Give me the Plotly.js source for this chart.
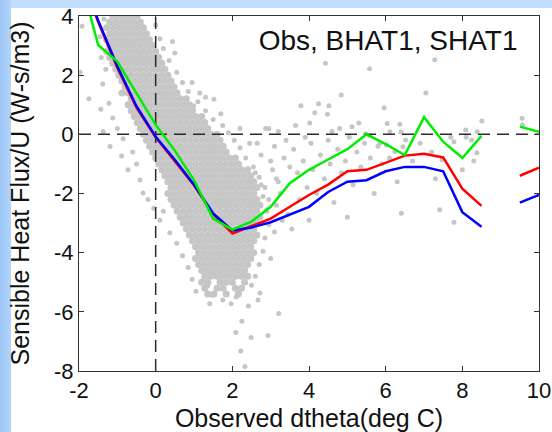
<!DOCTYPE html>
<html><head><meta charset="utf-8">
<script src="https://cdn.plot.ly/plotly-3.0.1.min.js"></script>
<style>
html,body{margin:0;padding:0;background:#fff;}
#wrap{position:relative;width:552px;height:432px;overflow:hidden;background:#fff;}
#bandTop{position:absolute;left:0;top:0;width:552px;height:8px;background:#c2defc;}
#bandLeft{position:absolute;left:0;top:0;width:11px;height:432px;background:linear-gradient(to right,#9cc6f6,#b2d5fa);}
#chart{position:absolute;left:0;top:0;width:552px;height:432px;}
</style></head>
<body><div id="wrap"><div id="bandTop"></div><div id="bandLeft"></div><div id="chart"></div></div>
<script>
// axis settings
const xRange = [-2, 10];
const yRange = [-8, 4];
const xTickVals = [-2, 0, 2, 4, 6, 8, 10];
const xTickText = ['-2', '0', '2', '4', '6', '8', '10'];
const yTickVals = [-8, -6, -4, -2, 0, 2, 4];
const yTickText = ['-8', '-6', '-4', '-2', '0', '2', '4'];
const xTitle = 'Observed dtheta(deg C)';
const yTitle = 'Sensible Heat Flux/U (W-s/m3)';
const chartTitle = 'Obs, BHAT1, SHAT1';

// binned curves
const binX = [-2, -1.5, -1, -0.5, 0, 0.5, 1, 1.5, 2, 2.5, 3, 3.5, 4, 4.5, 5, 5.5, 6, 6.5, 7, 7.5, 8, 8.5, 9, 9.5, 10];
const curveRed   = [5.5, 3.8, 2.25, 0.9, -0.1, -0.9, -1.72, -2.7, -3.35, -3.1, -2.85, -2.45, -2.05, -1.7, -1.25, -1.2, -0.95, -0.72, -0.66, -0.78, -1.84, -2.42, null, -1.4, -1.13];
const curveBlue  = [5.6, 3.85, 2.3, 0.95, -0.08, -0.86, -1.7, -2.67, -3.25, -3.15, -2.97, -2.72, -2.45, -1.95, -1.6, -1.55, -1.25, -1.1, -1.1, -1.25, -2.63, -3.12, null, -2.31, -2.05];
const curveGreen = [5.45, 3.02, 2.46, 1.4, 0.32, -0.55, -1.55, -2.85, -3.22, -2.95, -2.45, -1.65, -1.2, -0.85, -0.5, 0.0, -0.33, -0.7, 0.58, -0.25, -0.8, -0.05, null, 0.26, 0.09];

// observed points: dense core, one row of x values per y level
const coreY = [4.0,3.8,3.6,3.4,3.2,3.0,2.8,2.6,2.4,2.2,2.0,1.8,1.6,1.4,1.2,1.0,0.8,0.6,0.4,0.2,0.0,-0.2,-0.4,-0.6,-0.8,-1.0,-1.2,-1.4,-1.6,-1.8,-2.0,-2.2,-2.4,-2.6,-2.8,-3.0,-3.2,-3.4,-3.6,-3.8,-4.0,-4.2,-4.4,-4.6,-4.8,-5.0,-5.2,-5.4];
const coreX = [
 [-1.12,-0.96,-0.8,-0.64,-0.48],
 [-1.2,-1.04,-0.88,-0.72,-0.56,-0.4],
 [-1.28,-1.12,-0.96,-0.8,-0.64,-0.48,-0.32],
 [-1.2,-1.04,-0.88,-0.72,-0.56,-0.4,-0.24],
 [-1.28,-1.12,-0.96,-0.8,-0.64,-0.48,-0.32,-0.16],
 [-1.2,-1.04,-0.88,-0.72,-0.56,-0.4,-0.24,-0.08],
 [-1.28,-1.12,-0.96,-0.8,-0.64,-0.48,-0.32,-0.16,0],
 [-1.2,-1.04,-0.88,-0.72,-0.56,-0.4,-0.24,-0.08,0.08],
 [-1.12,-0.96,-0.8,-0.64,-0.48,-0.32,-0.16,0,0.16],
 [-1.04,-0.88,-0.72,-0.56,-0.4,-0.24,-0.08,0.08,0.24],
 [-0.96,-0.8,-0.64,-0.48,-0.32,-0.16,0,0.16,0.32],
 [-0.88,-0.72,-0.56,-0.4,-0.24,-0.08,0.08,0.24,0.4],
 [-0.8,-0.64,-0.48,-0.32,-0.16,0,0.16,0.32,0.48],
 [-0.88,-0.72,-0.56,-0.4,-0.24,-0.08,0.08,0.24,0.4,0.56],
 [-0.64,-0.48,-0.32,-0.16,0,0.16,0.32,0.48,0.64,0.8],
 [-0.72,-0.56,-0.4,-0.24,-0.08,0.08,0.24,0.4,0.56,0.72,0.88],
 [-0.64,-0.48,-0.32,-0.16,0,0.16,0.32,0.48,0.64,0.8,0.96],
 [-0.56,-0.4,-0.24,-0.08,0.08,0.24,0.4,0.56,0.72,0.88,1.04,1.2],
 [-0.48,-0.32,-0.16,0,0.16,0.32,0.48,0.64,0.8,0.96,1.12,1.28],
 [-0.4,-0.24,-0.08,0.08,0.24,0.4,0.56,0.72,0.88,1.04,1.2,1.36],
 [-0.32,-0.16,0,0.16,0.32,0.48,0.64,0.8,0.96,1.12,1.28,1.44,1.6],
 [-0.24,-0.08,0.08,0.24,0.4,0.56,0.72,0.88,1.04,1.2,1.36,1.52,1.68],
 [-0.16,0,0.16,0.32,0.48,0.64,0.8,0.96,1.12,1.28,1.44,1.6,1.76],
 [-0.08,0.08,0.24,0.4,0.56,0.72,0.88,1.04,1.2,1.36,1.52,1.68,1.84],
 [0,0.16,0.32,0.48,0.64,0.8,0.96,1.12,1.28,1.44,1.6,1.76,1.92,2.08],
 [0.08,0.24,0.4,0.56,0.72,0.88,1.04,1.2,1.36,1.52,1.68,1.84,2,2.16],
 [0.16,0.32,0.48,0.64,0.8,0.96,1.12,1.28,1.44,1.6,1.76,1.92,2.08,2.24,2.4],
 [0.24,0.4,0.56,0.72,0.88,1.04,1.2,1.36,1.52,1.68,1.84,2,2.16,2.32,2.48],
 [0.32,0.48,0.64,0.8,0.96,1.12,1.28,1.44,1.6,1.76,1.92,2.08,2.24,2.4,2.56],
 [0.4,0.56,0.72,0.88,1.04,1.2,1.36,1.52,1.68,1.84,2,2.16,2.32,2.48,2.64],
 [0.32,0.48,0.64,0.8,0.96,1.12,1.28,1.44,1.6,1.76,1.92,2.08,2.24,2.4,2.56],
 [0.4,0.56,0.72,0.88,1.04,1.2,1.36,1.52,1.68,1.84,2,2.16,2.32,2.48,2.64],
 [0.48,0.64,0.8,0.96,1.12,1.28,1.44,1.6,1.76,1.92,2.08,2.24,2.4,2.56,2.72],
 [0.56,0.72,0.88,1.04,1.2,1.36,1.52,1.68,1.84,2,2.16,2.32,2.48,2.64],
 [0.64,0.8,0.96,1.12,1.28,1.44,1.6,1.76,1.92,2.08,2.24,2.4,2.56,2.72],
 [0.72,0.88,1.04,1.2,1.36,1.52,1.68,1.84,2,2.16,2.32,2.48,2.64],
 [0.8,0.96,1.12,1.28,1.44,1.6,1.76,1.92,2.08,2.24,2.4,2.56],
 [0.88,1.04,1.2,1.36,1.52,1.68,1.84,2,2.16,2.32,2.48,2.64],
 [0.96,1.12,1.28,1.44,1.6,1.76,1.92,2.08,2.24,2.4,2.56],
 [1.04,1.2,1.36,1.52,1.68,1.84,2,2.16,2.32,2.48],
 [1.12,1.28,1.44,1.6,1.76,1.92,2.08,2.24,2.4,2.56],
 [1.04,1.2,1.36,1.52,1.68,1.84,2,2.16,2.32,2.48],
 [1.12,1.28,1.44,1.6,1.76,1.92,2.08,2.24,2.4],
 [1.2,1.36,1.52,1.68,1.84,2,2.16,2.32],
 [1.28,1.44,1.6,1.76,1.92,2.08,2.24,2.4],
 [1.2,1.36,1.68,1.84,2,2.32],
 [1.28,1.6,1.76,2.08,2.24],
 [1.36,1.52,1.84,2.16]
];

// observed points: scattered ones outside the core
const sparseX = [
 -1.92,-1.97,-1.74,-1.43,-1.37,-1.45,-1.42,-1.38,-1.22,-1.12,-1.19,-0.89,-0.72,-0.41,-0.33,-0.2,0.11,0.37,0.55,-1.0,-0.85,-0.6,-0.5,-0.05,0.2,0.7,0.85,0.95,1.05,-1.3,-1.35,
 0.11,0.44,1.15,1.52,0.99,0.0,0.2,0.35,0.55,0.7,0.85,1.1,1.3,1.5,1.75,1.9,2.05,2.2,2.35,2.55,2.7,2.85,2.95,2.9,2.95,2.85,2.8,2.7,2.6,2.5,0.5,0.95,1.3,1.7,2.2,2.45,2.75,3.05,3.2,3.15,3.3,3.1,3.0,
 1.41,1.97,2.42,2.67,2.72,3.21,2.25,2.09,2.49,2.93,2.22,2.33,1.47,1.36,1.75,2.1,
 4.43,5.58,4.84,7.05,7.28,3.79,4.25,4.52,4.48,5.96,9.57,9.56,2.87,4.02,4.15,4.8,5.12,5.3,5.48,5.58,6.4,8.1,
 2.6,2.75,2.8,2.9,3.0,3.1,3.15,3.25,3.35,3.45,3.5,3.6,3.7,3.75,3.85,3.95,4.05,4.1,4.2,4.3,4.4,4.5,4.55,4.65,4.75,4.85,4.95,5.05,5.15,5.25,5.35,5.45,5.6,5.7,5.8,5.9,2.55,2.65,2.95,3.2,3.4,3.65,3.9,4.6,5.0,4.0,3.55,
 6.1,6.3,6.7,6.9,7.2,7.3,7.7,8.0,8.3,6.04,6.37,6.11,6.52,5.85,6.02,6.45,6.24,6.41,7.41,7.78,8.09,8.39,8.51,8.24,7.78,8.38,7.47
];
const sparseY = [
 3.65,2.1,1.2,0.85,0.1,3.3,2.6,1.7,1.05,0.55,-0.41,-0.73,-1.2,-1.54,-1.98,-2.2,-2.9,-3.33,-3.68,0.2,-0.15,-0.6,-1.0,-2.5,-2.6,-4.1,-4.5,-4.9,-5.3,2.2,3.9,
 3.23,3.14,1.4,1.19,0.97,3.7,2.9,2.5,2.1,1.75,1.45,1.1,0.8,0.5,0.3,0.05,-0.2,-0.45,-0.8,-1.1,-1.45,-1.8,-2.2,-2.55,-3.05,-3.5,-3.95,-4.4,-4.8,-5.1,2.75,1.75,1.25,0.7,0.2,-0.3,-0.7,-1.2,-1.6,-2.4,-2.9,-3.3,-4.2,
 -5.73,-5.73,-5.8,-5.6,-5.36,-6.06,-6.32,-6.7,-6.87,-6.8,-7.32,-7.85,-5.44,-5.12,-5.6,-5.5,
 2.4,2.22,1.33,1.4,2.52,0.97,1.03,0.97,0.68,0.9,0.32,0.54,0.2,0.38,0.73,0.2,0.26,0.38,0.02,-0.04,0.08,-0.1,
 -1.3,-1.7,-2.1,-2.6,-0.9,-0.4,-1.5,-2.0,-0.8,-2.7,-1.1,-0.5,-1.3,-2.2,-0.9,-1.8,-0.3,-1.2,-2.0,-0.7,-1.5,-0.2,-1.0,-2.3,-0.5,-1.3,-0.9,-0.1,-1.7,-0.6,-1.1,-0.3,-0.8,-2.0,-0.4,-1.0,-2.4,-0.3,0.2,0.1,-0.2,0.3,-0.1,0.1,-2.8,-2.9,-3.2,
 -0.8,-1.6,-0.9,-0.3,-0.6,-1.5,-0.1,-1.2,-0.9,0.37,0.34,0.09,-0.19,-0.3,-0.36,-0.42,-0.58,-2.67,-2.55,-2.97,0.15,0.09,0.45,-0.19,-0.25,-0.62,-0.86
];

// reference zero lines
const zeroPair = [0, 0];

const coreFlatX = [], coreFlatY = [];
coreX.forEach((row, i) => row.forEach(v => { coreFlatX.push(v); coreFlatY.push(coreY[i]); }));

const gray = '#c6c6c6';
const dashStyle = {color: '#2a2a2a', width: 1.5, dash: '12px,7px'};

const traces = [
  {type: 'scatter', mode: 'markers', x: coreFlatX, y: coreFlatY, marker: {color: gray, size: 7}, hoverinfo: 'skip'},
  {type: 'scatter', mode: 'markers', x: sparseX, y: sparseY, marker: {color: gray, size: 5}, hoverinfo: 'skip'},
  {type: 'scatter', mode: 'lines', x: xRange, y: zeroPair, line: dashStyle, hoverinfo: 'skip'},
  {type: 'scatter', mode: 'lines', x: zeroPair, y: yRange, line: dashStyle, hoverinfo: 'skip'},
  {type: 'scatter', mode: 'lines', x: binX, y: curveRed, line: {color: '#ff0000', width: 2.5}, connectgaps: false, name: 'SHAT1'},
  {type: 'scatter', mode: 'lines', x: binX, y: curveBlue, line: {color: '#0000ff', width: 2.5}, connectgaps: false, name: 'BHAT1'},
  {type: 'scatter', mode: 'lines', x: binX, y: curveGreen, line: {color: '#00ee00', width: 2.5}, connectgaps: false, name: 'Obs'}
];

const axisCommon = {
  ticks: 'inside', ticklen: 5, tickwidth: 1, tickcolor: '#333',
  showline: true, linecolor: '#333', linewidth: 1, mirror: 'ticks',
  showgrid: false, zeroline: false, automargin: false,
  tickfont: {size: 22, color: '#111'}
};

const layout = {
  width: 552, height: 432,
  margin: {l: 79, r: 13, t: 16, b: 61, pad: 0},
  paper_bgcolor: 'rgba(0,0,0,0)', plot_bgcolor: '#ffffff',
  showlegend: false,
  font: {family: 'Liberation Sans, Arial, sans-serif', size: 22, color: '#111'},
  title: {text: chartTitle, font: {size: 28, color: '#111'}, xref: 'paper', x: 0.672, xanchor: 'center', yref: 'container', y: 0.906, yanchor: 'middle'},
  xaxis: Object.assign({}, axisCommon, {range: xRange, tickmode: 'array', tickvals: xTickVals, ticktext: xTickText,
    title: {text: xTitle, font: {size: 25, color: '#111'}, standoff: 11}}),
  yaxis: Object.assign({}, axisCommon, {range: yRange, tickmode: 'array', tickvals: yTickVals, ticktext: yTickText}),
  annotations: [{text: yTitle, textangle: -90, xref: 'paper', yref: 'paper', x: -0.1283, y: 0.5,
    xanchor: 'center', yanchor: 'middle', showarrow: false, font: {size: 25, color: '#111'}}]
};

Plotly.newPlot('chart', traces, layout, {staticPlot: true, displayModeBar: false});
</script></body></html>
